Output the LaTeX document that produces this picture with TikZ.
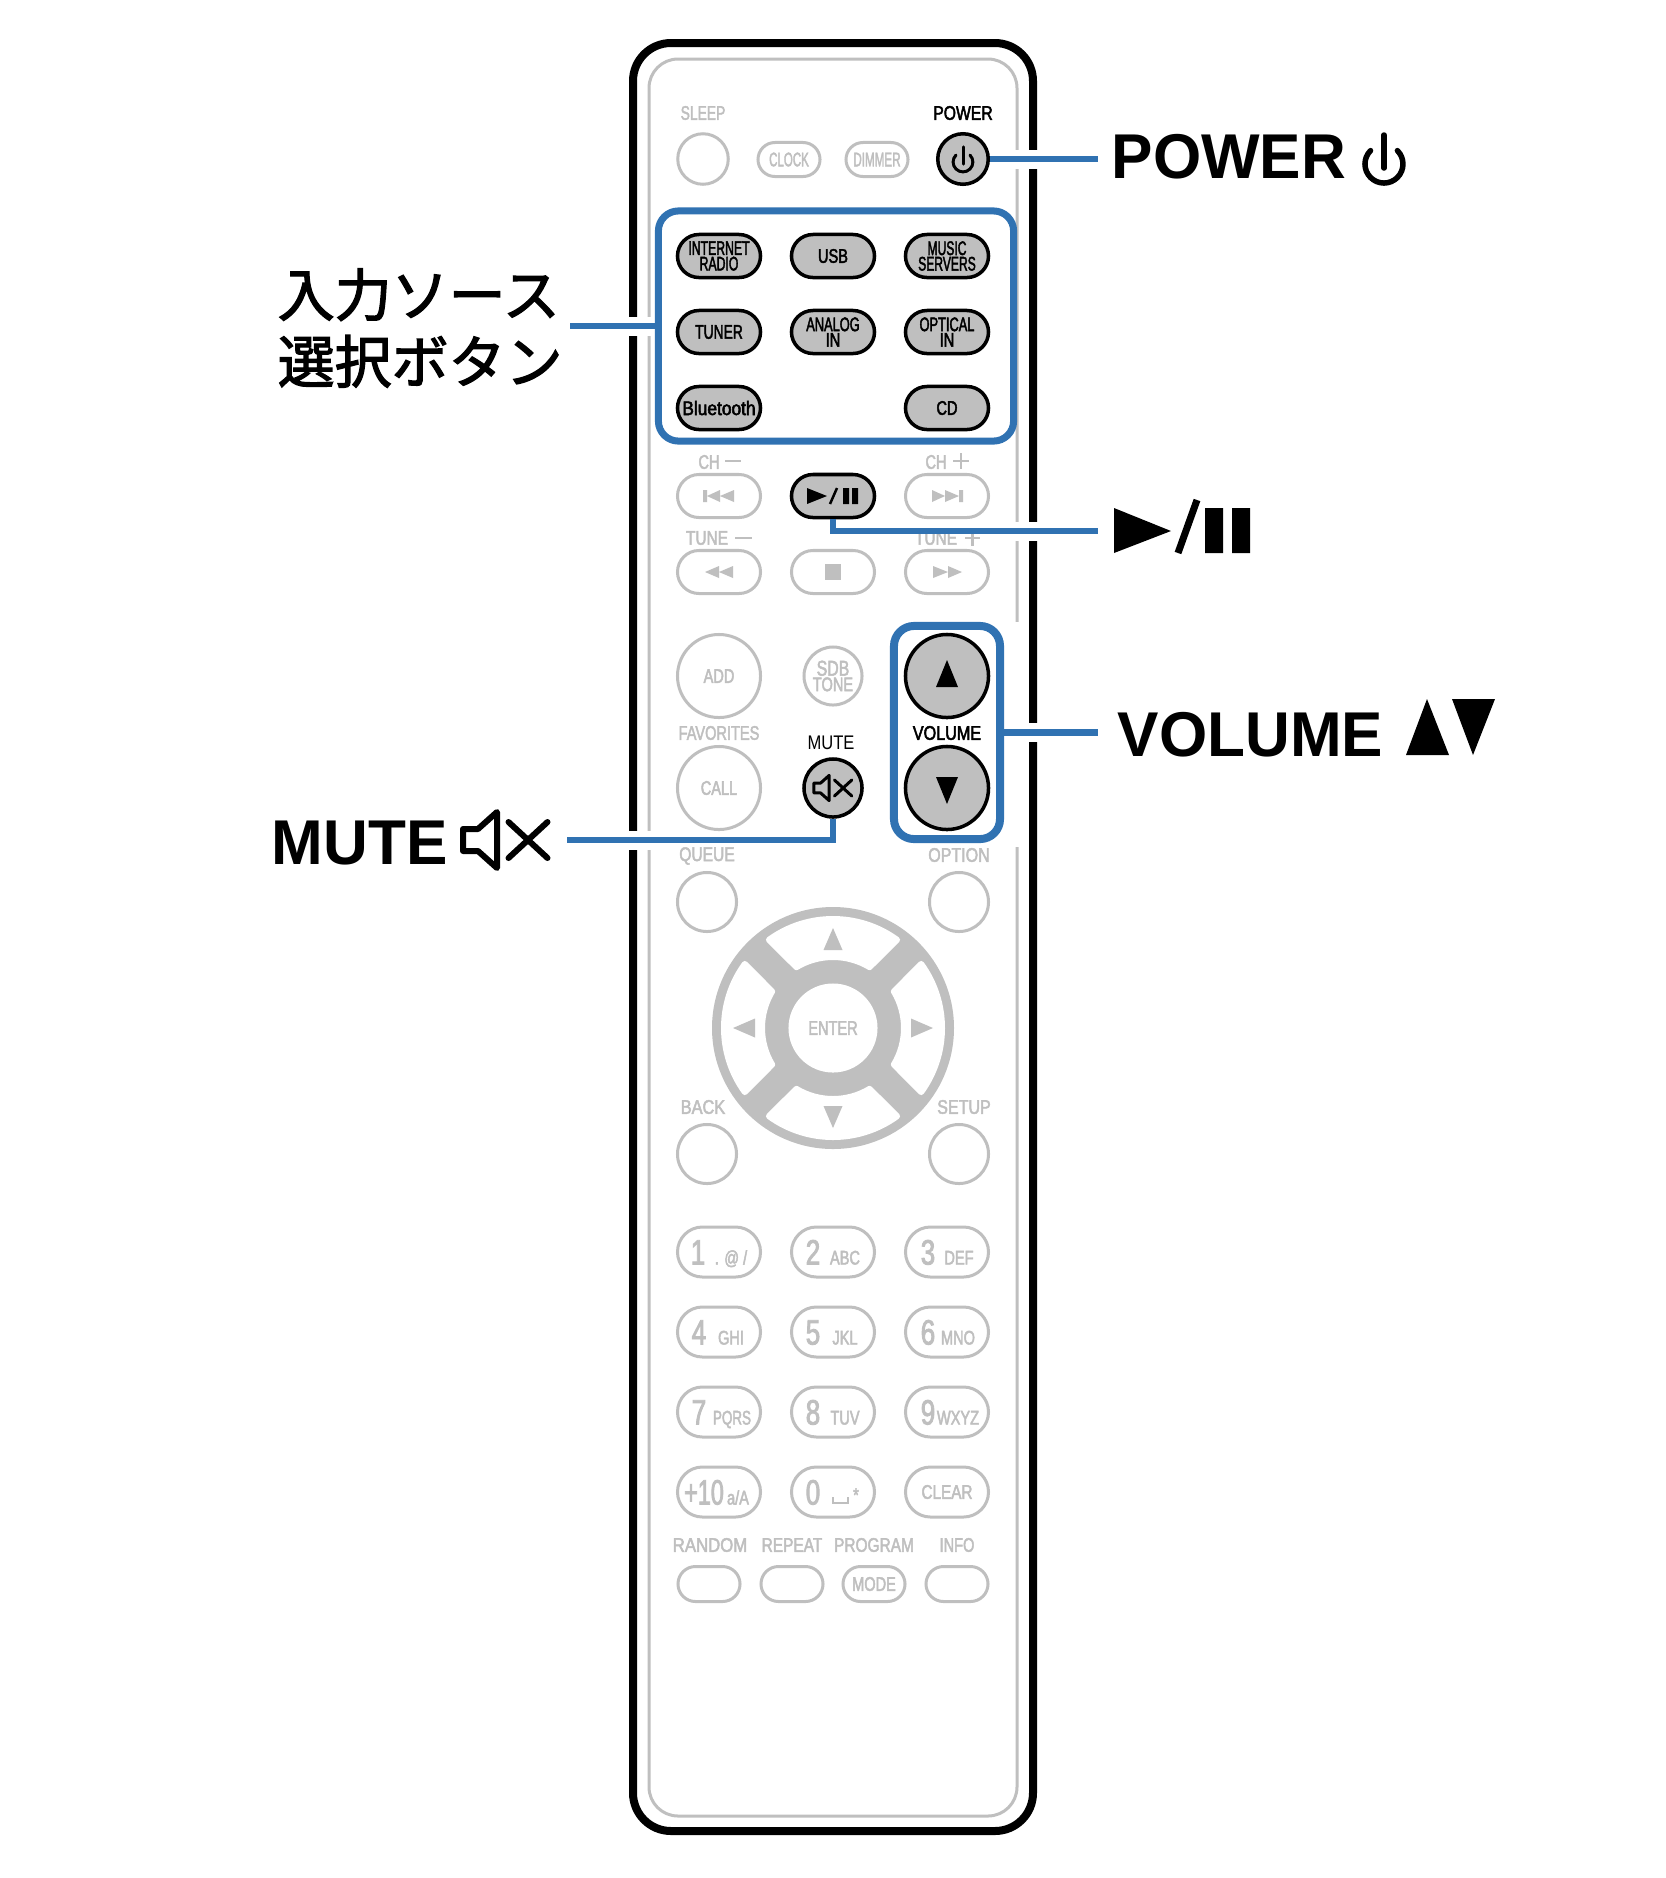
\documentclass[tikz,border=0pt]{standalone}
\usepackage{fontspec}
\usetikzlibrary{shapes.misc}
\setmainfont{Liberation Sans}
\newfontfamily\keyfont[FakeStretch=0.74,FakeBold=2.3]{Liberation Sans}
\newfontfamily\mutefont[FakeStretch=0.84]{Liberation Sans}
\newfontfamily\cjkfont[FakeBold=2.2]{Noto Sans CJK JP}
\newcommand{\keysq}[2]{\scalebox{#1}[1]{#2}}
\definecolor{keygrey}{HTML}{BFBFBF}
\definecolor{leaderblue}{HTML}{3072B2}
\tikzset{
  keytext/.style={font=\keyfont\fontsize{5.6}{4.4}\selectfont,align=center,inner sep=0pt},
  greytext/.style={keytext,text=keygrey},
  darktext/.style={keytext,text=black},
  digit/.style={font=\keyfont\fontsize{10}{10}\selectfont,inner sep=0pt,text=keygrey},
  offkey/.style={rounded rectangle,draw=keygrey,fill=white,line width=.03cm,minimum width=.83cm,minimum height=.43cm,greytext},
  onkey/.style={rounded rectangle,draw=black,fill=keygrey,line width=.035cm,minimum width=.83cm,minimum height=.43cm,darktext},
  offround/.style={circle,draw=keygrey,fill=white,line width=.03cm,minimum size=#1,greytext},
  onround/.style={circle,draw=black,fill=keygrey,line width=.035cm,minimum size=#1,darktext},
  groupbox/.style={rectangle,rounded corners=.2cm,draw=leaderblue,inner sep=0pt},
  leader/.style={draw=leaderblue,line width=.065cm},
  leaderhalo/.style={draw=white,line width=.19cm,shorten <=1pt},
  signstroke/.style={keygrey,line width=.025cm},
  biglabel/.style={font=\bfseries\fontsize{18}{18}\selectfont,inner sep=0pt,anchor=base west},
  speakersign/.pic={
    \draw[line join=round,line cap=round] (-42.5,-11) -- (-27.5,-11) -- (-8.5,-28) -- (-8.5,28) -- (-27.5,11) -- (-42.5,11) -- cycle;
    \draw[line cap=round] (3,-18) -- (42,18) (3,18) -- (42,-18);
  },
  powersign/.pic={
    \draw[line cap=round] (13.4,-13.4) arc[start angle=-45,end angle=225,radius=19];
    \draw[line cap=round] (0,-29) -- (0,4);
  }
}
\begin{document}
\begin{tikzpicture}[x=.01cm,y=-.01cm]
  \useasboundingbox (0,0) rectangle (1665,1878);

  % remote body
  \draw[line width=.08cm,rounded corners=.38cm] (633,43) rectangle (1033,1831);
  \draw[keygrey,line width=.03cm,rounded corners=.29cm] (649,59) rectangle (1017,1816);
  \fill[white] (1005,622) rectangle (1025,847);

  % keys and frames that the leaders start from
  \node[onround=.505cm] (btnpower) at (963,159) {};
  \node[onkey] (btnplay) at (833,496) {};
  \node[onround=.58cm] (btnmute) at (833,788) {};
  \node[groupbox,line width=.07cm,minimum width=3.55cm,minimum height=2.30cm] (srcbox) at (836,326) {};
  \node[groupbox,line width=.08cm,minimum width=1.06cm,minimum height=2.13cm] (volbox) at (947,732.5) {};

  \coordinate (powerend) at (1098,159);
  \coordinate (srcend) at (570,326);
  \coordinate (playend) at (1098,531);
  \coordinate (volend) at (1098,732.5);
  \coordinate (muteend) at (567,840);

  \draw[leaderhalo] (btnpower.east) -- (powerend);
  \draw[leaderhalo] (srcbox.west) -- (srcend);
  \draw[leaderhalo] (btnplay.south) |- (playend);
  \draw[leaderhalo] (volbox.east) -- (volend);
  \draw[leaderhalo] (btnmute.south) |- (muteend);

  % this label runs under the leader of the play key
  \node[greytext] (lbltuneup) at (936,538) {\keysq{1.06}{TUNE}};
  \draw[signstroke] (965,538) -- (980,538) (972.5,530) -- (972.5,546);

  \draw[leader] (btnpower.east) -- (powerend);
  \draw[leader] (srcbox.west) -- (srcend);
  \draw[leader] (btnplay.south) |- (playend);
  \draw[leader] (volbox.east) -- (volend);
  \draw[leader] (btnmute.south) |- (muteend);

  % top row
  \node[greytext] (lblsleep) at (703,113) {\keysq{.95}{SLEEP}};
  \node[darktext] (lblpower) at (963,113) {\keysq{1.08}{POWER}};
  \node[offround=.505cm] (btnsleep) at (703,159) {};
  \node[offkey,minimum width=.62cm,minimum height=.34cm] (btnclock) at (789,159.5) {\keysq{.79}{CLOCK}};
  \node[offkey,minimum width=.62cm,minimum height=.34cm] (btndimmer) at (877,159.5) {\keysq{.8}{DIMMER}};
  \pic[line width=.03cm,scale=.52] at (963,162) {powersign};

  % input source keys
  \foreach \name/\x/\y/\txt in {inet/719/256/{\keysq{.84}{INTERNET}\\\keysq{.84}{RADIO}},usb/833/256/USB,music/947/256/{\keysq{.83}{MUSIC}\\\keysq{.83}{SERVERS}},
      tuner/719/332/\keysq{.95}{TUNER},analog/833/332/{\keysq{.88}{ANALOG}\\IN},optical/947/332/{\keysq{.88}{OPTICAL}\\IN},
      bt/719/408/\keysq{1.19}{Bluetooth},cd/947/408/CD}
    \node[onkey] (btn\name) at (\x,\y) {\txt};

  % transport keys
  \node[greytext] (lblchdown) at (709,462) {CH};
  \node[greytext] (lblchup) at (936,462) {CH};
  \node[greytext] (lbltunedown) at (707,538) {\keysq{1.06}{TUNE}};
  \draw[signstroke] (725,461) -- (741,461) (953,461) -- (969,461) (961,453) -- (961,469) (735,538) -- (752,538);
  \node[offkey] (btnprev) at (719,496) {};
  \node[offkey] (btnnext) at (947,496) {};
  \node[offkey] (btnrew) at (719,572) {};
  \node[offkey] (btnstop) at (833,572) {};
  \node[offkey] (btnfwd) at (947,572) {};
  \fill[keygrey] (703,490) rectangle (707,502) (707,496) -- (720,490) -- (720,502) -- cycle (720,496) -- (734,490) -- (734,502) -- cycle;
  \fill[keygrey] (959,490) rectangle (963,502) (959,496) -- (945,490) -- (945,502) -- cycle (945,496) -- (932,490) -- (932,502) -- cycle;
  \fill[keygrey] (705,572) -- (719,566) -- (719,578) -- cycle (719,572) -- (733,566) -- (733,578) -- cycle;
  \fill[keygrey] (962,572) -- (948,566) -- (948,578) -- cycle (948,572) -- (933,566) -- (933,578) -- cycle;
  \fill[keygrey] (825,564) rectangle (841,580);
  \fill (807,488) -- (827,496) -- (807,504) -- cycle (843,488) rectangle (849,504) (852,488) rectangle (858,504);
  \draw[line width=.025cm] (830,504) -- (837,488);

  % round keys and volume
  \node[offround=.83cm] (btnadd) at (719,676) {ADD};
  \node[offround=.58cm] (btnsdb) at (833,676) {\fontsize{6.1}{4.9}\selectfont SDB\\TONE};
  \node[offround=.83cm] (btncall) at (719,788) {CALL};
  \node[greytext] (lblfav) at (719,733) {FAVORITES};
  \node[darktext,font=\mutefont\fontsize{5.6}{5.6}\selectfont] (lblmute) at (831,743) {MUTE};
  \node[onround=.83cm] (btnvolup) at (947,676) {};
  \node[onround=.83cm] (btnvoldown) at (947,788) {};
  \node[darktext] (lblvol) at (947,733) {\keysq{1.11}{VOLUME}};
  \fill (947,660) -- (958,687) -- (936,687) -- cycle;
  \fill (947,804) -- (958,777) -- (936,777) -- cycle;
  \pic[line width=.03cm,scale=.45] at (833,788) {speakersign};

  % cursor keys
  \node[greytext] (lblqueue) at (707,856) {\keysq{1.07}{QUEUE}};
  \node[greytext] (lbloption) at (959,855) {\keysq{1.1}{OPTION}};
  \node[greytext] (lblback) at (703,1107) {\keysq{1.12}{BACK}};
  \node[greytext] (lblsetup) at (964,1107) {\keysq{1.1}{SETUP}};
  \node[offround=.59cm] (btnqueue) at (707,902) {};
  \node[offround=.59cm] (btnoption) at (959,902) {};
  \node[offround=.59cm] (btnback) at (707,1154) {};
  \node[offround=.59cm] (btnsetup) at (959,1154) {};
  \fill[keygrey] (833,1028) circle[radius=121];
  \foreach \a in {0,90,180,270}
  {
    \begin{scope}[shift={(833,1028)},rotate=\a]
      \filldraw[white,line width=.06cm,line join=round] (-126:109) arc[start angle=-126,end angle=-54,radius=109] -- (-59:71) arc[start angle=-59,end angle=-121,radius=71] -- cycle;
      \fill[keygrey] (0,-100) -- (9.5,-78) -- (-9.5,-78) -- cycle;
    \end{scope}
  }
  \node[offround=.89cm,draw=none] (btnenter) at (833,1028) {ENTER};

  % number keys
  \foreach \x/\y/\dig/\digx/\sub/\subx [count=\k] in {719/1252/1/698/{. @ /}/731,833/1252/2/813/ABC/845,947/1252/3/928/DEF/959,
      719/1332/4/699/GHI/731,833/1332/5/813/JKL/845,947/1332/6/928/MNO/958,
      719/1412/7/699/\keysq{.92}{PQRS}/732,833/1412/8/813/TUV/845,947/1412/9/928/WXYZ/958,
      719/1492/\keysq{.9}{+10}/704/a\slash A/738,833/1492/0/813/{}/845}
  {
    \node[offkey,minimum height=.5cm] (key\k) at (\x,\y) {};
    \node[digit,anchor=base] (dig\k) at (\digx,\y+12.5) {\dig};
    \node[greytext,anchor=base] (sub\k) at (\subx,\y+12.5) {\sub};
  }
  \node[offkey,minimum height=.5cm] (keyclear) at (947,1492) {\keysq{1.05}{CLEAR}};
  \draw[keygrey,line width=.012cm] (833,1497) -- (833,1503) -- (848,1503) -- (848,1497);
  \node[greytext] (lblstar) at (856,1495) {*};

  % bottom row
  \foreach \name/\x/\lx/\lbl/\txt in {random/709/710/\keysq{1.15}{RANDOM}/{},repeat/792/792/\keysq{1.06}{REPEAT}/{},program/874/874/\keysq{1.06}{PROGRAM}/MODE,info/957/957/INFO/{}}
  {
    \node[greytext] (lbl\name) at (\lx,1545) {\lbl};
    \node[offkey,minimum width=.62cm,minimum height=.35cm] (btn\name) at (\x,1584) {\txt};
  }

  % labels beside the remote
  \node[biglabel] (textpower) at (1111,178) {\scalebox{.98}[1]{POWER}};
  \pic[line width=.055cm] at (1384,164) {powersign};
  \fill (1114,508) -- (1171,531) -- (1114,553) -- cycle (1205,508) rectangle (1223,553) (1232,508) rectangle (1250,553);
  \draw[line width=.07cm] (1178,553) -- (1197,500);
  \node[biglabel] (textvolume) at (1117,756) {\scalebox{.98}[1]{VOLUME}};
  \fill (1427,699) -- (1449,755) -- (1406,755) -- cycle;
  \fill (1473,755) -- (1495,699) -- (1452,699) -- cycle;
  \node[biglabel] (textmute) at (271,864) {\scalebox{.98}[1]{MUTE}};
  \pic[line width=.06cm] at (505.5,840) {speakersign};
  \node[font=\cjkfont\fontsize{16.2}{19}\selectfont,align=left,inner sep=0pt,anchor=west] (textsource) at (277,328) {入力ソース\\選択ボタン};
\end{tikzpicture}
\end{document}
